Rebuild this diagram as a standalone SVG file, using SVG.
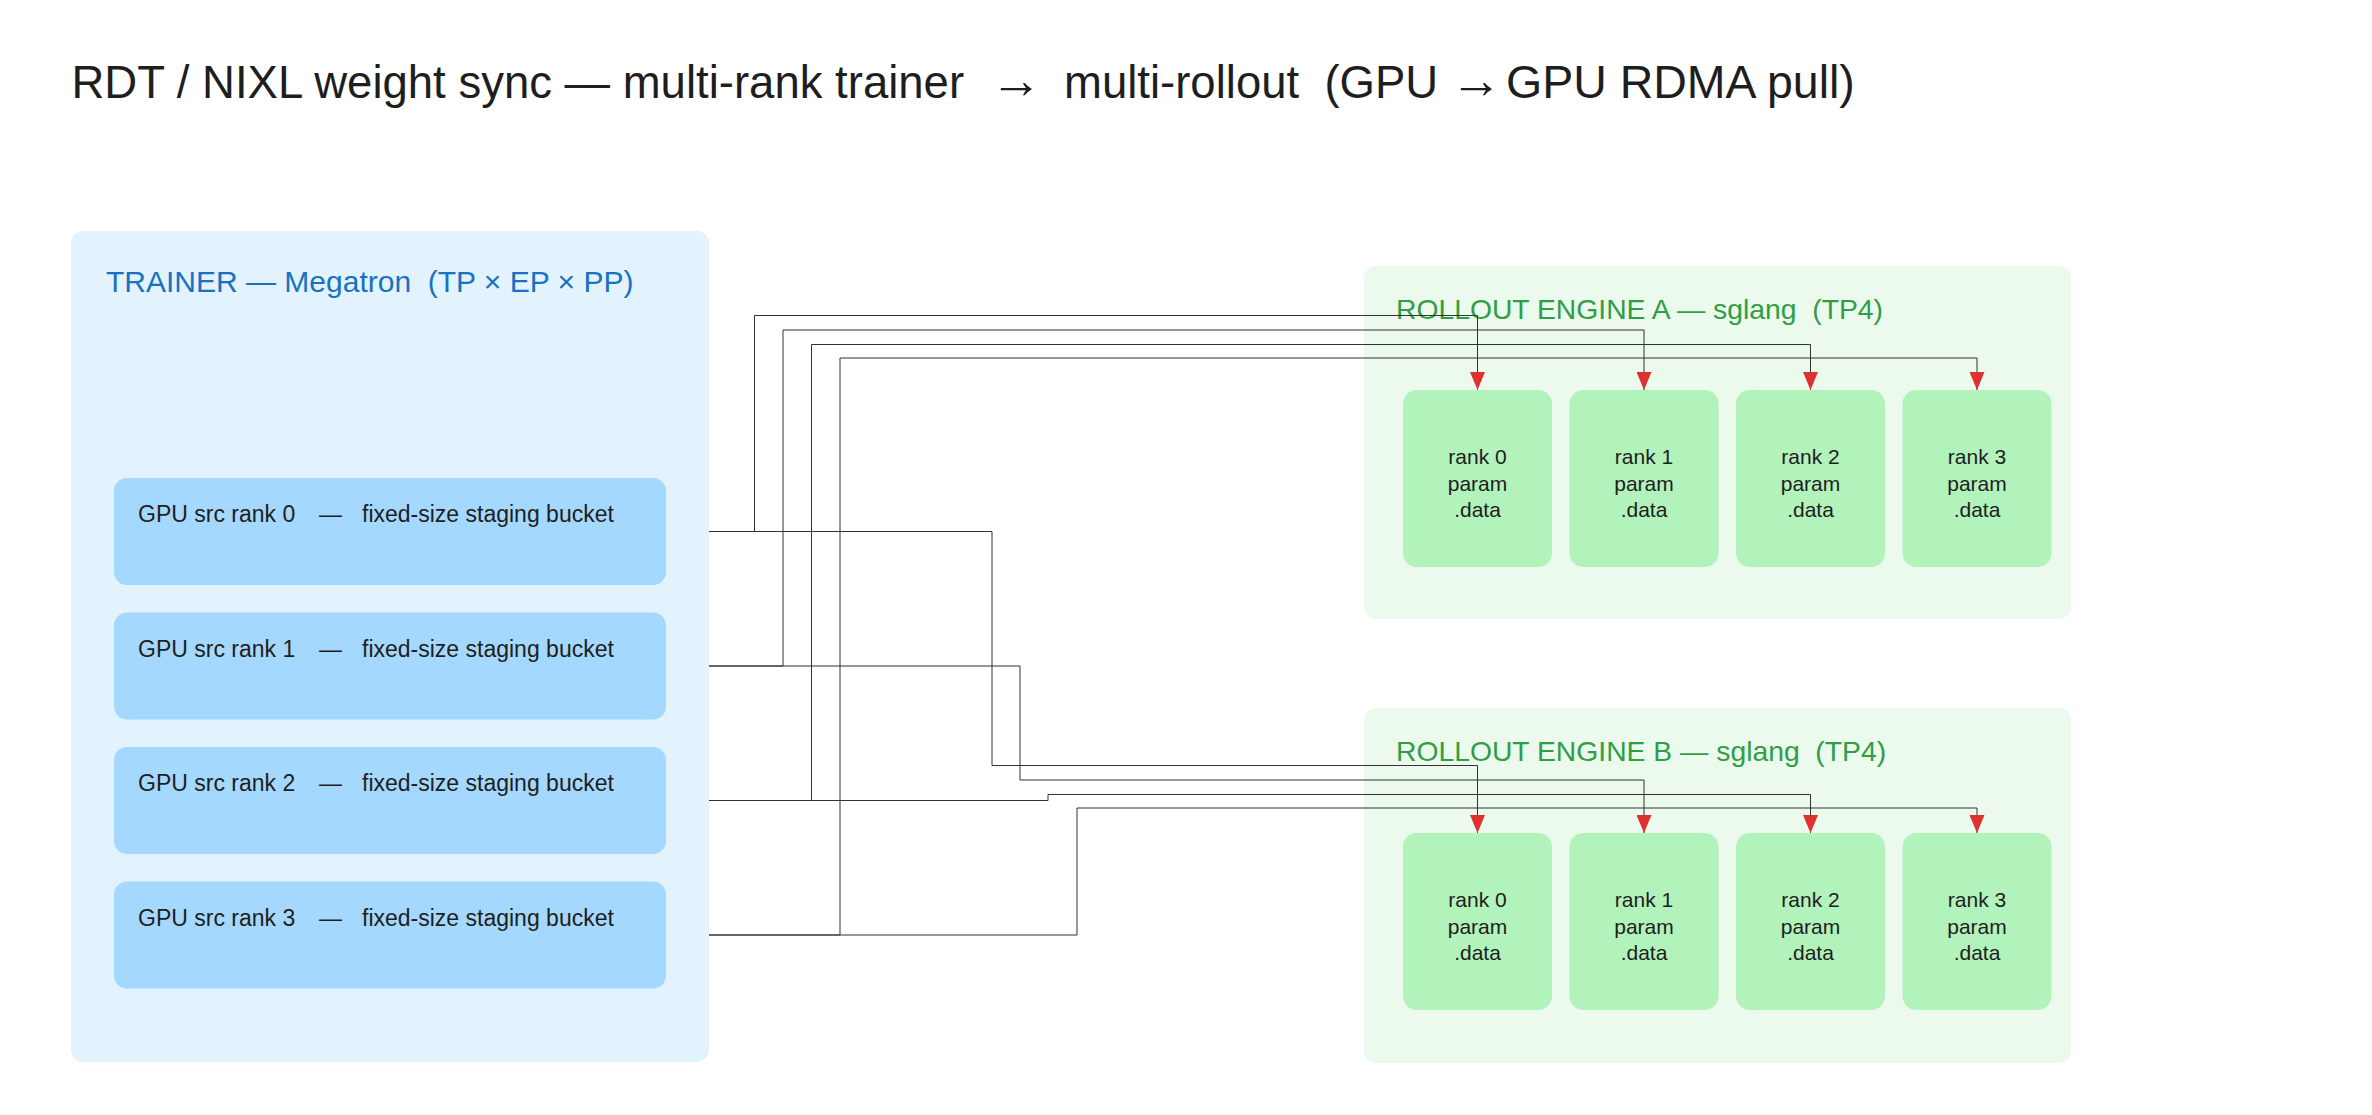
<svg xmlns="http://www.w3.org/2000/svg" width="2372" height="1115" viewBox="0 0 2372 1115">
<defs>
<style>
text{font-family:"Liberation Sans",Arial,sans-serif;}
.title{font-size:45.5px;fill:#1e1e1e;}
.arrowt{font-size:52px;}
.trainer{fill:#e3f3fd;}
.src{fill:#a5d8ff;}
.srct{font-size:23px;fill:#1e1e1e;}
.hdrT{font-size:30px;fill:#1971c2;}
.roll{fill:#ebfaed;}
.rank{fill:#b2f2bb;}
.hdrR{font-size:28.3px;fill:#2f9e44;}
.rt{font-size:21px;fill:#1e1e1e;text-anchor:middle;}
.conn{fill:none;stroke:#333;stroke-width:1;}
</style>
<marker id="arr" markerUnits="userSpaceOnUse" markerWidth="18" markerHeight="15" refX="18" refY="7.5" orient="auto">
<path d="M0,0 L18,7.5 L0,15 Z" fill="#e03131"/>
</marker>
</defs>
<rect width="2372" height="1115" fill="#ffffff"/>
<text class="title" y="98" xml:space="preserve"><tspan x="71.5">RDT / NIXL weight sync — multi-rank trainer</tspan><tspan class="arrowt" x="990">→</tspan><tspan x="1064">multi-rollout  (GPU</tspan><tspan class="arrowt" x="1450">→</tspan><tspan x="1506" style="font-size:46.5px">GPU RDMA pull)</tspan></text>

<g id="trainer">
<rect class="trainer" x="71" y="231" width="638" height="831" rx="12"/>
<text class="hdrT" x="106" y="292" xml:space="preserve">TRAINER — Megatron  (TP × EP × PP)</text>
</g>
<g id="src0"><rect class="src" x="114" y="478" width="552" height="107" rx="13"/><text class="srct" y="522"><tspan x="138">GPU src rank 0</tspan><tspan x="319">—</tspan><tspan x="362">fixed-size staging bucket</tspan></text></g>
<g id="src1"><rect class="src" x="114" y="612.5" width="552" height="107" rx="13"/><text class="srct" y="656.5"><tspan x="138">GPU src rank 1</tspan><tspan x="319">—</tspan><tspan x="362">fixed-size staging bucket</tspan></text></g>
<g id="src2"><rect class="src" x="114" y="747" width="552" height="107" rx="13"/><text class="srct" y="791"><tspan x="138">GPU src rank 2</tspan><tspan x="319">—</tspan><tspan x="362">fixed-size staging bucket</tspan></text></g>
<g id="src3"><rect class="src" x="114" y="881.5" width="552" height="107" rx="13"/><text class="srct" y="925.5"><tspan x="138">GPU src rank 3</tspan><tspan x="319">—</tspan><tspan x="362">fixed-size staging bucket</tspan></text></g>

<g id="engineA">
<rect class="roll" x="1364" y="266" width="707" height="353" rx="12"/>
<text class="hdrR" x="1396" y="319" xml:space="preserve">ROLLOUT ENGINE A — sglang  (TP4)</text>
</g>
<g id="A0"><rect class="rank" x="1403" y="390" width="149" height="177" rx="14"/><text class="rt" x="1477.5" y="464">rank 0</text><text class="rt" x="1477.5" y="490.5">param</text><text class="rt" x="1477.5" y="517">.data</text></g>
<g id="A1"><rect class="rank" x="1569.5" y="390" width="149" height="177" rx="14"/><text class="rt" x="1644" y="464">rank 1</text><text class="rt" x="1644" y="490.5">param</text><text class="rt" x="1644" y="517">.data</text></g>
<g id="A2"><rect class="rank" x="1736" y="390" width="149" height="177" rx="14"/><text class="rt" x="1810.5" y="464">rank 2</text><text class="rt" x="1810.5" y="490.5">param</text><text class="rt" x="1810.5" y="517">.data</text></g>
<g id="A3"><rect class="rank" x="1902.5" y="390" width="149" height="177" rx="14"/><text class="rt" x="1977" y="464">rank 3</text><text class="rt" x="1977" y="490.5">param</text><text class="rt" x="1977" y="517">.data</text></g>

<g id="engineB">
<rect class="roll" x="1364" y="708" width="707" height="355" rx="12"/>
<text class="hdrR" x="1396" y="761" xml:space="preserve">ROLLOUT ENGINE B — sglang  (TP4)</text>
</g>
<g id="B0"><rect class="rank" x="1403" y="833" width="149" height="177" rx="14"/><text class="rt" x="1477.5" y="907">rank 0</text><text class="rt" x="1477.5" y="933.5">param</text><text class="rt" x="1477.5" y="960">.data</text></g>
<g id="B1"><rect class="rank" x="1569.5" y="833" width="149" height="177" rx="14"/><text class="rt" x="1644" y="907">rank 1</text><text class="rt" x="1644" y="933.5">param</text><text class="rt" x="1644" y="960">.data</text></g>
<g id="B2"><rect class="rank" x="1736" y="833" width="149" height="177" rx="14"/><text class="rt" x="1810.5" y="907">rank 2</text><text class="rt" x="1810.5" y="933.5">param</text><text class="rt" x="1810.5" y="960">.data</text></g>
<g id="B3"><rect class="rank" x="1902.5" y="833" width="149" height="177" rx="14"/><text class="rt" x="1977" y="907">rank 3</text><text class="rt" x="1977" y="933.5">param</text><text class="rt" x="1977" y="960">.data</text></g>

<g id="connectors">
<path class="conn" marker-end="url(#arr)" d="M709,531.5 H754.5 V315.5 H1477.5 V390"/>
<path class="conn" marker-end="url(#arr)" d="M709,666 H783 V330 H1644 V390"/>
<path class="conn" marker-end="url(#arr)" d="M709,800.5 H811.5 V344.5 H1810.5 V390"/>
<path class="conn" marker-end="url(#arr)" d="M709,935 H840 V358 H1977 V390"/>
<path class="conn" marker-end="url(#arr)" d="M709,531.5 H992 V765.5 H1477.5 V833"/>
<path class="conn" marker-end="url(#arr)" d="M709,666 H1020 V780 H1644 V833"/>
<path class="conn" marker-end="url(#arr)" d="M709,800.5 H1048 V794.5 H1810.5 V833"/>
<path class="conn" marker-end="url(#arr)" d="M709,935 H1077 V808 H1977 V833"/>
</g>
</svg>
